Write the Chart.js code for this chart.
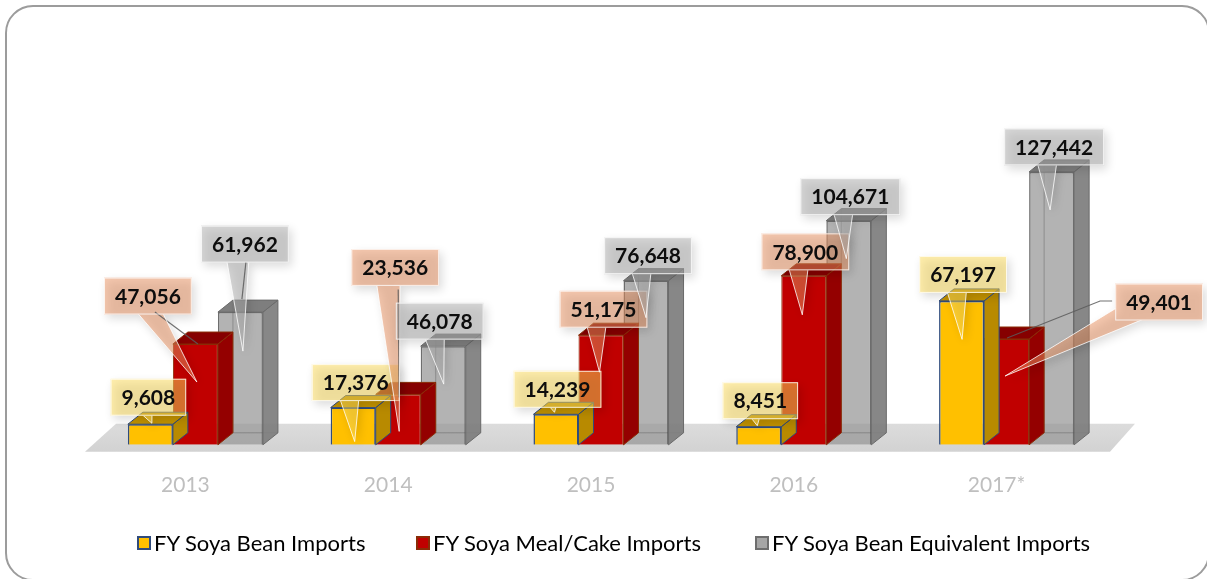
<!DOCTYPE html>
<html>
<head>
<meta charset="utf-8">
<script src="https://cdn.jsdelivr.net/npm/chart.js@4.4.1/dist/chart.umd.min.js"></script>
<style>
    html, body { margin: 0; padding: 0; background: #fff; }
    #wrap { position: relative; width: 1207px; height: 579px; overflow: hidden; }
    #frame { position: absolute; left: 5px; top: 5px; width: 1205px; height: 576px; border: 2px solid #9c9c9c; border-radius: 28px; box-sizing: border-box; pointer-events: none; }
    canvas { position: absolute; left: 0; top: 0; }
    .legend-item { position: absolute; top: 529px; display: flex; align-items: center; font: 22px Lato, sans-serif; color: #000; white-space: nowrap; }
    .legend-item i { display: inline-block; width: 10px; height: 10px; border: 2px solid; margin-right: 3px; }
</style>
</head>
<body>
<div id="wrap">
    <canvas id="chart" width="1207" height="579"></canvas>
    <div id="frame"></div>
    <div id="legend"></div>
</div>
<script>
const CATEGORIES = ['2013', '2014', '2015', '2016', '2017*'];
const SOYA_BEAN = [9608, 17376, 14239, 8451, 67197];
const SOYA_MEAL = [47056, 23536, 51175, 78900, 49401];
const SOYA_EQUIV = [61962, 46078, 76648, 104671, 127442];
const SERIES_NAMES = ['FY Soya Bean Imports', 'FY Soya Meal/Cake Imports', 'FY Soya Bean Equivalent Imports'];
const Y_MAX = 140000;

// callout placement relative to the top centre of each bar: text centre, wedge tip, optional leader line
const BEAN_CALLOUTS = [
    { t: [-2, -27], tip: [1.5, -1] },
    { t: [2.5, -25], tip: [1.5, 34] },
    { t: [1.5, -25], tip: [-1.5, -2] },
    { t: [1.5, -26], tip: [-1.5, -1] },
    { t: [1.5, -26.5], tip: [0.5, 38.5] }
];
const MEAL_CALLOUTS = [
    { t: [-47.5, -48], tip: [1.5, 38], lead: [[-40.5, -32], [2.5, 0]] },
    { t: [-3, -127], tip: [1, 37], lead: [[0, -105], [1, 3]] },
    { t: [2.5, -26], tip: [-1.5, 37] },
    { t: [1.5, -24], tip: [-1.5, 39] },
    { t: [152.5, -37], tip: [-1.5, 37], lead: [[105.5, -38], [93.5, -38], [0.5, -1]] }
];
const EQUIV_CALLOUTS = [
    { t: [4.5, -68], tip: [2.5, 39], lead: [[5.5, -50], [1.5, -13]] },
    { t: [-3.5, -25], tip: [0.5, 38] },
    { t: [2, -25], tip: [0, 37] },
    { t: [1.5, -24], tip: [-2.5, 38] },
    { t: [2.5, -25], tip: [-1.5, 38] }
];

const DX = 15, DY = 12;
const FONT = 'Lato, sans-serif';

function poly(ctx, pts) {
    ctx.beginPath();
    ctx.moveTo(pts[0][0], pts[0][1]);
    for (let i = 1; i < pts.length; i++) ctx.lineTo(pts[i][0], pts[i][1]);
    ctx.closePath();
}

const floorPlugin = {
    id: 'floor',
    beforeDatasetsDraw(chart) {
        const ctx = chart.ctx, a = chart.chartArea;
        const yb = chart.scales.y.getPixelForValue(0);
        const g = ctx.createLinearGradient(0, yb - 21, 0, yb + 7);
        g.addColorStop(0, '#dcdcdc');
        g.addColorStop(1, '#d2d2d2');
        ctx.save();
        ctx.fillStyle = g;
        poly(ctx, [[a.left - 9, yb + 7], [a.right + 2, yb + 7], [a.right + 27, yb - 21], [a.left + 22, yb - 21]]);
        ctx.fill();
        ctx.restore();
    }
};

const boxPlugin = {
    id: 'box3d',
    afterDatasetDraw(chart, args) {
        const ctx = chart.ctx;
        const ds = chart.data.datasets[args.index];
        args.meta.data.forEach(bar => {
            const { x, y, base, width } = bar.getProps(['x', 'y', 'base', 'width'], true);
            const l = x - width / 2, r = x + width / 2;
            ctx.save();
            ctx.lineWidth = 1;
            ctx.strokeStyle = ds.edgeColor;
            if (ds.seeThrough) {
                ctx.strokeStyle = 'rgba(70,70,70,0.35)';
                ctx.beginPath();
                ctx.moveTo(l + DX, y - DY);
                ctx.lineTo(l + DX, base - DY);
                ctx.lineTo(r + DX, base - DY);
                ctx.stroke();
                ctx.strokeStyle = ds.edgeColor;
            }
            ctx.fillStyle = ds.sideColor;
            poly(ctx, [[r, y], [r + DX, y - DY], [r + DX, base - DY], [r, base]]);
            ctx.fill();
            ctx.stroke();
            ctx.fillStyle = ds.topColor;
            poly(ctx, [[l, y], [l + DX, y - DY], [r + DX, y - DY], [r, y]]);
            ctx.fill();
            ctx.stroke();
            ctx.restore();
        });
    }
};

function drawCallout(ctx, chart, bar, value, layout, fill) {
    const cx = bar.x + layout.t[0], cy = bar.y + layout.t[1];
    const text = value.toLocaleString('en-US');
    ctx.font = 'bold 21px ' + FONT;
    const w = ctx.measureText(text).width + 22, h = 37;
    const bx = cx - w / 2, by = cy - h / 2;
    const tip = [bar.x + layout.tip[0], bar.y + layout.tip[1]];
    const ox = cx - 8, oy = cy;
    const vx = tip[0] - ox, vy = tip[1] - oy;
    const len = Math.hypot(vx, vy) || 1;
    const px = -vy / len * 13, py = vx / len * 13;
    let p1 = [ox + px, oy + py], p2 = [ox - px, oy - py];
    const cross = (p2[0] - p1[0]) * (tip[1] - p1[1]) - (tip[0] - p1[0]) * (p2[1] - p1[1]);
    if (cross < 0) { const tmp = p1; p1 = p2; p2 = tmp; }

    ctx.save();
    ctx.shadowColor = 'rgba(0,0,0,0.28)';
    ctx.shadowBlur = 10;
    ctx.shadowOffsetX = 3;
    ctx.shadowOffsetY = 4;
    ctx.fillStyle = fill;
    ctx.beginPath();
    ctx.rect(bx, by, w, h);
    ctx.moveTo(p1[0], p1[1]);
    ctx.lineTo(p2[0], p2[1]);
    ctx.lineTo(tip[0], tip[1]);
    ctx.closePath();
    ctx.fill('nonzero');
    ctx.restore();

    if (layout.lead) {
        ctx.save();
        ctx.strokeStyle = 'rgba(90,90,90,0.85)';
        ctx.lineWidth = 1.2;
        ctx.beginPath();
        layout.lead.forEach((p, i) => {
            const X = bar.x + p[0], Y = bar.y + p[1];
            if (i === 0) ctx.moveTo(X, Y); else ctx.lineTo(X, Y);
        });
        ctx.stroke();
        ctx.restore();
    }

    ctx.save();
    ctx.strokeStyle = 'rgba(255,255,255,0.8)';
    ctx.lineWidth = 1;
    ctx.strokeRect(bx + 0.5, by + 0.5, w - 1, h - 1);
    ctx.beginPath();
    ctx.rect(0, 0, chart.width, chart.height);
    ctx.rect(bx, by, w, h);
    ctx.clip('evenodd');
    ctx.beginPath();
    ctx.moveTo(p1[0], p1[1]);
    ctx.lineTo(tip[0], tip[1]);
    ctx.lineTo(p2[0], p2[1]);
    ctx.stroke();
    ctx.restore();

    ctx.save();
    ctx.fillStyle = '#0d0d0d';
    ctx.font = 'bold 21px ' + FONT;
    ctx.textAlign = 'center';
    ctx.textBaseline = 'middle';
    ctx.fillText(text, cx, cy + 1);
    ctx.restore();
}

const calloutPlugin = {
    id: 'callouts',
    afterDatasetsDraw(chart) {
        const ctx = chart.ctx;
        chart.data.datasets.forEach((ds, di) => {
            const meta = chart.getDatasetMeta(di);
            meta.data.forEach((bar, i) => {
                drawCallout(ctx, chart, bar, ds.data[i], ds.callouts[i], ds.calloutFill);
            });
        });
    }
};

const datasets = [
    {
        label: SERIES_NAMES[0], data: SOYA_BEAN,
        backgroundColor: '#ffc000', borderColor: '#2f4b7c', borderWidth: 1.5,
        sideColor: '#b88a00', topColor: '#c29200', edgeColor: '#2f4b7c',
        callouts: BEAN_CALLOUTS, calloutFill: 'rgba(255,222,90,0.5)'
    },
    {
        label: SERIES_NAMES[1], data: SOYA_MEAL,
        backgroundColor: '#c00000', borderColor: '#8a2c06', borderWidth: 1,
        sideColor: '#940000', topColor: '#860000', edgeColor: '#8a2c06',
        callouts: MEAL_CALLOUTS, calloutFill: 'rgba(235,145,95,0.5)'
    },
    {
        label: SERIES_NAMES[2], data: SOYA_EQUIV,
        backgroundColor: 'rgba(150,150,150,0.72)', borderColor: '#6e6e6e', borderWidth: 1.5,
        sideColor: 'rgba(125,125,125,0.92)', topColor: 'rgba(115,115,115,0.92)', edgeColor: '#6a6a6a',
        seeThrough: true,
        callouts: EQUIV_CALLOUTS, calloutFill: 'rgba(175,175,175,0.5)'
    }
];
datasets.forEach(ds => { ds.categoryPercentage = 0.666; ds.barPercentage = 1.0; });

new Chart(document.getElementById('chart'), {
    type: 'bar',
    data: { labels: CATEGORIES, datasets: datasets },
    options: {
        responsive: false,
        animation: false,
        layout: { padding: { left: 94, right: 99, top: 145, bottom: 53 } },
        plugins: { legend: { display: false }, tooltip: { enabled: false } },
        scales: {
            x: {
                grid: { display: false, drawTicks: false },
                border: { display: false },
                ticks: { color: '#bfbfbf', font: { family: FONT, size: 21 }, padding: 28, labelOffset: -10, maxRotation: 0 }
            },
            y: { display: false, min: 0, max: Y_MAX }
        }
    },
    plugins: [floorPlugin, boxPlugin, calloutPlugin]
});

// legend
const legendColors = [['#ffc000', '#2f4b7c'], ['#c00000', '#8a2c06'], ['#a6a6a6', '#6e6e6e']];
const legendLeft = [137, 416, 755];
const legend = document.getElementById('legend');
SERIES_NAMES.forEach((name, i) => {
    const item = document.createElement('div');
    item.className = 'legend-item';
    item.style.left = legendLeft[i] + 'px';
    item.innerHTML = `<i style="background:${legendColors[i][0]};border-color:${legendColors[i][1]}"></i><span>${name}</span>`;
    legend.appendChild(item);
});
</script>
</body>
</html>
